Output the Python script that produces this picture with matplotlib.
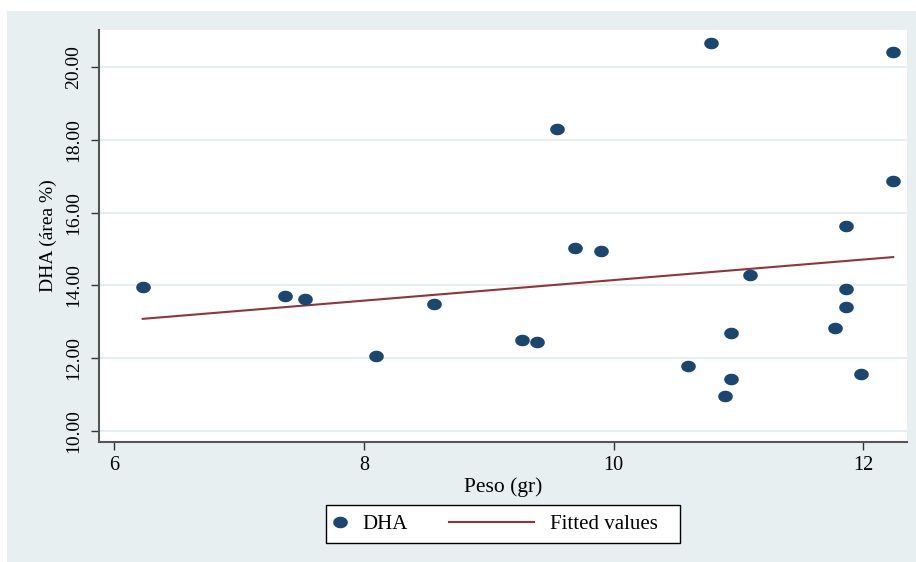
import numpy as np
import matplotlib
matplotlib.use("Agg")
import matplotlib.pyplot as plt
from matplotlib.patches import Rectangle
from matplotlib.path import Path
from matplotlib.legend_handler import HandlerLine2D

# data
peso = [6.23, 7.37, 7.53, 8.10, 8.56, 9.27, 9.39, 9.55, 9.69, 9.90, 10.60, 10.78,
        10.89, 10.94, 10.94, 11.09, 11.77, 11.86, 11.86, 11.86, 11.98, 12.24, 12.24]
dha = [13.96, 13.71, 13.63, 12.06, 13.49, 12.50, 12.44, 18.31, 15.03, 14.95, 11.78, 20.68,
       10.96, 12.69, 11.42, 14.29, 12.83, 15.64, 13.90, 13.40, 11.56, 20.43, 16.87]
fit_x = [6.23, 12.24]
fit_y = [13.08, 14.78]

x_ticks = [6, 8, 10, 12]
y_ticks = [10, 12, 14, 16, 18, 20]
y_ticklabels = ["10.00", "12.00", "14.00", "16.00", "18.00", "20.00"]

bg = "#E8EFF1"
navy = "#1A476F"
maroon = "#90353B"

plt.rcParams["font.family"] = ["Liberation Serif", "DejaVu Serif"]

fig = plt.figure(figsize=(9.16, 5.62), dpi=100, facecolor="white")
fig.add_artist(Rectangle((7 / 916, 0), 1 - 7 / 916, 551 / 562, transform=fig.transFigure,
                         facecolor=bg, edgecolor="none", zorder=-5))

ax = fig.add_axes([99 / 916, 120 / 562, 808 / 916, 412 / 562])
ax.set_facecolor("white")

# elliptical marker, like the stretched dots
t = np.linspace(0, 2 * np.pi, 50)
ell = Path(np.column_stack([1.3 * np.cos(t), np.sin(t)]), closed=True)

ax.plot(peso, dha, linestyle="none", marker=ell, markersize=9.5, color=navy, label="DHA", zorder=3)
ax.plot(fit_x, fit_y, color=maroon, lw=1.5, label="Fitted values", zorder=2)

ax.set_xlim(5.88, 12.35)
ax.set_ylim(9.69, 21.03)
ax.set_xticks(x_ticks)
ax.set_xticklabels([str(v) for v in x_ticks])
ax.set_yticks(y_ticks)
ax.set_yticklabels(y_ticklabels, rotation=90, va="center")
ax.yaxis.grid(True, color="#E6EEF2", lw=1.5)
ax.set_axisbelow(True)

for s in ["top", "right"]:
    ax.spines[s].set_visible(False)
for s in ["left", "bottom"]:
    ax.spines[s].set_color("#555555")
    ax.spines[s].set_linewidth(1.5)
ax.tick_params(direction="out", length=6, width=1, color="#333333")
ax.tick_params(axis="x", labelsize=14.5, pad=4)
ax.tick_params(axis="y", labelsize=14, pad=6)

ax.set_xlabel("Peso (gr)", fontsize=15.5, labelpad=2)
ax.set_ylabel("DHA (área %)", fontsize=14, labelpad=6)


class LongLine(HandlerLine2D):
    # draws the legend line further left than its handle box
    def create_artists(self, legend, orig_handle, xdescent, ydescent, width, height, fontsize, trans):
        arts = super().create_artists(legend, orig_handle, xdescent, ydescent, width, height, fontsize, trans)
        x1 = -xdescent + width - 3.2
        for a in arts:
            a.set_xdata(np.linspace(x1 - 61, x1, len(a.get_xdata())))
        return arts


# legend frame drawn by hand, entries from the legend
fig.add_artist(Rectangle((326 / 916, 19 / 562), 354 / 916, 38 / 562, transform=fig.transFigure,
                         facecolor="white", edgecolor="black", lw=1.0, zorder=4))
h, l = ax.get_legend_handles_labels()
leg = fig.legend(h, l, loc="center left", bbox_to_anchor=(326 / 916, 38 / 562), ncol=2,
                 fontsize=15, handlelength=1.0, handletextpad=0.56, columnspacing=5.27,
                 borderpad=0.17, borderaxespad=0, frameon=False,
                 handler_map={h[1]: LongLine()})
leg.set_zorder(5)

fig.savefig("out.png", dpi=100, facecolor=fig.get_facecolor())
